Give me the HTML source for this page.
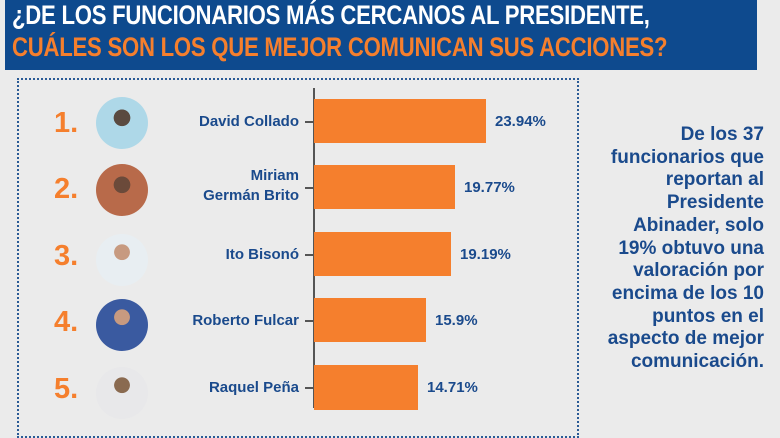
<!DOCTYPE html>
<html><head><meta charset="utf-8"><style>
*{margin:0;padding:0;box-sizing:border-box}
body{width:780px;height:405px;overflow:hidden;background:#ebebeb;font-family:"Liberation Sans",sans-serif;position:relative}
.hdr{position:absolute;left:5px;top:0;width:752px;height:70px;background:#0e4a8e}
.t{position:absolute;left:12px;font-weight:bold;font-size:27px;white-space:nowrap;transform-origin:0 0;transform:scaleX(0.82);letter-spacing:-0.3px}
.box{position:absolute;left:17px;top:78px;width:562px;height:360px;border:2px dotted #2a5a95}
.axis{position:absolute;left:313px;top:88px;width:1.5px;height:320px;background:#555}
.bar{position:absolute;left:314px;height:44px;background:#f57f2d}
.tick{position:absolute;left:305px;width:8px;height:1.5px;background:#555}
.val{position:absolute;font-weight:bold;font-size:15px;color:#1a4a8c}
.num{position:absolute;left:54px;font-weight:bold;font-size:29px;color:#f57f2d}
.av{position:absolute;left:96px;width:52px;height:52px;border-radius:50%}
.nm{position:absolute;right:481px;font-weight:bold;font-size:15px;color:#1a4a8c;text-align:right;line-height:20px}
.side{position:absolute;right:16px;top:124px;width:200px;text-align:right;font-weight:bold;font-size:19px;line-height:22.7px;color:#1a4a8c}
</style></head><body>
<div class="hdr"></div>
<div class="t" style="top:0px;color:#fff">¿DE LOS FUNCIONARIOS MÁS CERCANOS AL PRESIDENTE,</div>
<div class="t" style="top:32px;color:#f57f2d">CUÁLES SON LOS QUE MEJOR COMUNICAN SUS ACCIONES?</div>
<div class="box"></div>
<div class="axis"></div>

<div class="bar" style="top:99px;width:172px"></div><div class="tick" style="top:121px"></div>
<div class="val" style="left:495px;top:113px">23.94%</div>
<div class="bar" style="top:165px;width:141px"></div><div class="tick" style="top:187px"></div>
<div class="val" style="left:464px;top:179px">19.77%</div>
<div class="bar" style="top:232px;width:137px"></div><div class="tick" style="top:254px"></div>
<div class="val" style="left:460px;top:246px">19.19%</div>
<div class="bar" style="top:298px;width:112px"></div><div class="tick" style="top:320px"></div>
<div class="val" style="left:435px;top:312px">15.9%</div>
<div class="bar" style="top:365px;width:104px;height:45px"></div><div class="tick" style="top:387px"></div>
<div class="val" style="left:427px;top:379px">14.71%</div>

<div class="num" style="top:107px">1.</div>
<div class="num" style="top:173px">2.</div>
<div class="num" style="top:240px">3.</div>
<div class="num" style="top:306px">4.</div>
<div class="num" style="top:373px">5.</div>

<div class="av" style="top:97px;background:radial-gradient(circle at 50% 40%,#5a4a40 0 20%,#aed8e8 21%)"></div>
<div class="av" style="top:164px;background:radial-gradient(circle at 50% 40%,#6b4a3a 0 20%,#b86a4a 21%)"></div>
<div class="av" style="top:234px;background:radial-gradient(circle at 50% 35%,#c79a80 0 18%,#e8eef2 19%)"></div>
<div class="av" style="top:299px;background:radial-gradient(circle at 50% 35%,#c79a80 0 18%,#3a5aa0 19%)"></div>
<div class="av" style="top:367px;background:radial-gradient(circle at 50% 35%,#8a6a50 0 18%,#e8e8ea 19%)"></div>

<div class="nm" style="top:112px">David Collado</div>
<div class="nm" style="top:166px">Miriam<br>Germán Brito</div>
<div class="nm" style="top:245px">Ito Bisonó</div>
<div class="nm" style="top:311px">Roberto Fulcar</div>
<div class="nm" style="top:378px">Raquel Peña</div>

<div class="side">De los 37<br>funcionarios que<br>reportan al<br>Presidente<br>Abinader, solo<br>19% obtuvo una<br>valoración por<br>encima de los 10<br>puntos en el<br>aspecto de mejor<br>comunicación.</div>
</body></html>
